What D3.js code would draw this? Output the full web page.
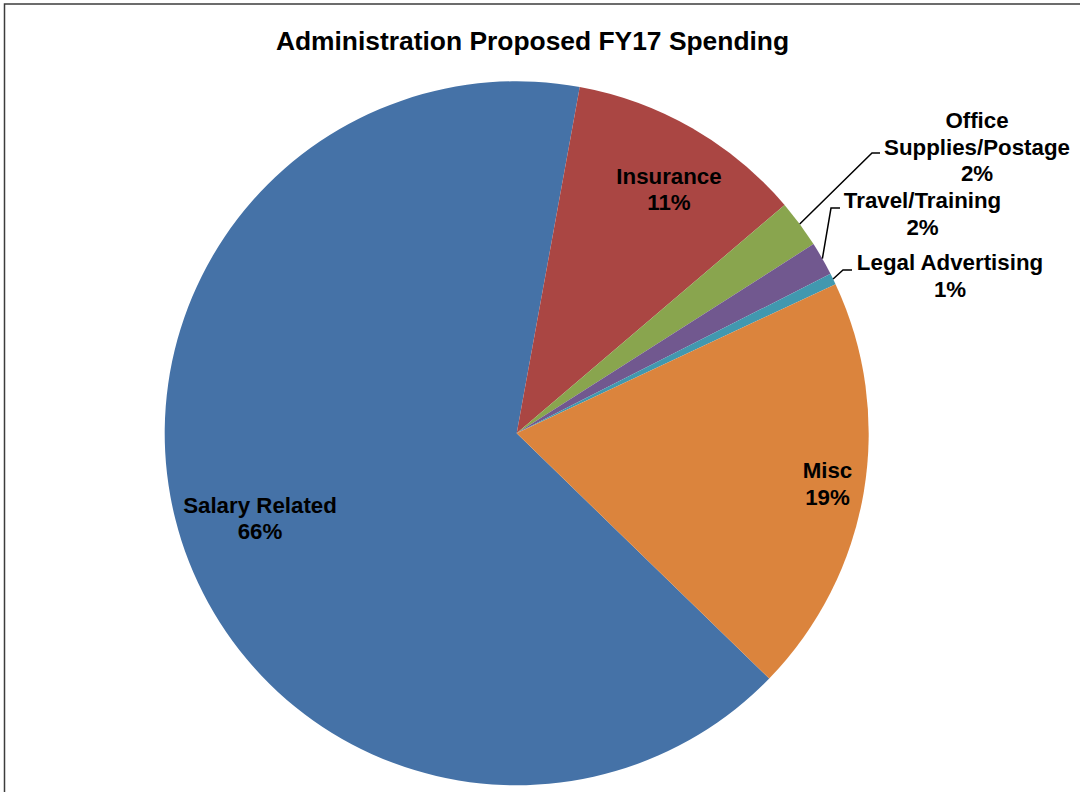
<!DOCTYPE html>
<html>
<head>
<meta charset="utf-8">
<script src="https://cdn.jsdelivr.net/npm/d3@7"></script>
<style>
  html, body { margin: 0; padding: 0; background: #fff; }
  svg { display: block; font-family: "Liberation Sans", Arial, sans-serif; }
</style>
</head>
<body>
<svg id="chart" width="1080" height="792"></svg>
<script>
// Budget categories, in clockwise order starting from the Salary slice
const categories = ["Salary Related", "Insurance", "Office Supplies/Postage", "Travel/Training", "Legal Advertising", "Misc"];
// Share of the proposed spending, percent
const shares = [65.6, 10.9, 2.2, 1.55, 0.52, 19.23];
const sliceColors = ["#4572A7", "#AA4643", "#89A54E", "#71588F", "#4198AF", "#DB843D"];
const chartTitle = "Administration Proposed FY17 Spending";

// Label text lines per category (the percent line is appended from the data)
const labelLines = [["Salary Related"], ["Insurance"], ["Office", "Supplies/Postage"], ["Travel/Training"], ["Legal Advertising"], ["Misc"]];

// Label placement: text block anchor (centre x, first baseline y); outside labels get a leader elbow
const labelLayout = [
  { x: 260, y: 513, lh: 25.5 },
  { x: 669, y: 184, lh: 26 },
  { x: 977, y: 128, lh: 26.5, elbow: [872, 153], end: [880, 153] },
  { x: 922.5, y: 208, lh: 27, elbow: [831, 208], end: [840, 208] },
  { x: 950, y: 270, lh: 26.7, elbow: [843, 270], end: [852, 270] },
  { x: 827.5, y: 478, lh: 27 }
];

const svg = d3.select("#chart");
const cx = 516.7, cy = 433.3, radius = 352;

// chart frame
svg.append("rect")
  .attr("x", 4.5).attr("y", 4).attr("width", 1200).attr("height", 900)
  .attr("fill", "none").attr("stroke", "#3c3c3c").attr("stroke-width", 1.5);

svg.append("text")
  .attr("x", 532.5).attr("y", 50)
  .attr("text-anchor", "middle")
  .attr("font-size", 26.4).attr("font-weight", "bold").attr("fill", "#000")
  .text(chartTitle);

const startDeg = 134.16;
const pie = d3.pie().sort(null).value(d => d)
  .startAngle(startDeg * Math.PI / 180)
  .endAngle(startDeg * Math.PI / 180 + 2 * Math.PI);
const arcs = pie(shares);
const total = d3.sum(shares);

const arc = d3.arc().innerRadius(0).outerRadius(radius);
const edgeArc = d3.arc().innerRadius(radius).outerRadius(radius);

const g = svg.append("g").attr("transform", `translate(${cx},${cy})`);

g.selectAll("path.slice")
  .data(arcs)
  .join("path")
  .attr("class", "slice")
  .attr("d", arc)
  .attr("fill", (d, i) => sliceColors[i]);

// leader lines for the narrow slices
arcs.forEach((d, i) => {
  const L = labelLayout[i];
  if (!L.elbow) return;
  const p = edgeArc.centroid(d);
  const pts = [[p[0] + cx, p[1] + cy], L.elbow, L.end];
  svg.append("path")
    .attr("d", d3.line()(pts))
    .attr("fill", "none").attr("stroke", "#000").attr("stroke-width", 1.5);
});

// data labels
arcs.forEach((d, i) => {
  const L = labelLayout[i];
  const pct = Math.round(d.value / total * 100 + 1e-9) + "%";
  const lines = labelLines[i].concat([pct]);
  const t = svg.append("text")
    .attr("text-anchor", "middle")
    .attr("font-size", 22.3).attr("font-weight", "bold").attr("fill", "#000");
  lines.forEach((s, k) => {
    t.append("tspan").attr("x", L.x).attr("y", L.y + k * L.lh).text(s);
  });
});
</script>
</body>
</html>
